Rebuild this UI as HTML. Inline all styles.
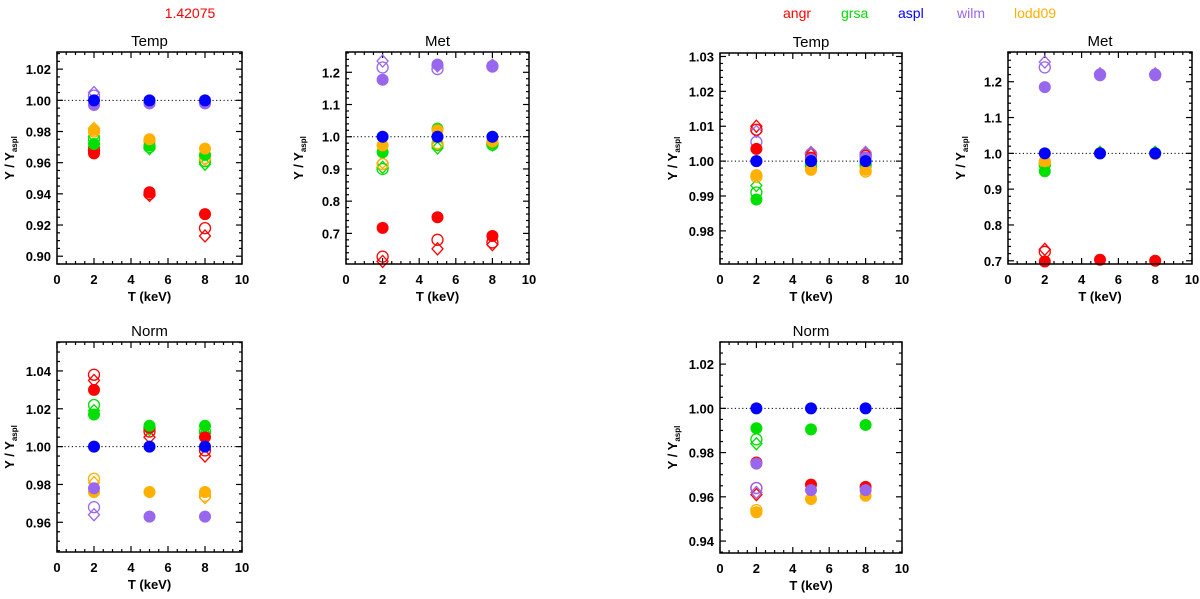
<!DOCTYPE html>
<html><head><meta charset="utf-8"><style>
body{margin:0;background:#fff;width:1200px;height:594px;overflow:hidden}
svg{font-family:"Liberation Sans",sans-serif;font-weight:bold}
</style></head><body>
<svg id="chart" width="1200" height="594" viewBox="0 0 1200 594">
<text x="190" y="18" fill="#f00" font-size="14" font-weight="normal" text-anchor="middle">1.42075</text>
<g font-size="14" font-weight="normal">
<text x="783" y="18" fill="#f00">angr</text>
<text x="841" y="18" fill="#00dd00">grsa</text>
<text x="898" y="18" fill="#0000ff">aspl</text>
<text x="957" y="18" fill="#9966ee">wilm</text>
<text x="1014" y="18" fill="#ffb000">lodd09</text>
</g>
</svg>
<script>
// model order: angr, grsa, lodd09, wilm, aspl
const models = ["angr","grsa","lodd09","wilm","aspl"];
const temps = [2,5,8];
const xTicks = [0,2,4,6,8,10];

const tempL_filled = [[0.966,0.941,0.927],[0.972,0.971,0.965],[0.981,0.975,0.969],[0.997,0.998,0.998],[1.0,1.0,1.0]];
const tempL_open = [[0.968,0.940,0.918],[0.975,0.970,0.961],[0.980,0.974,0.963],[1.003,null,null],[null,null,null]];
const tempL_diam = [[0.970,0.939,0.913],[0.977,0.969,0.959],[0.982,0.973,0.962],[1.005,null,null],[null,null,null]];
const tempL_ticks = [0.90,0.92,0.94,0.96,0.98,1.00,1.02];

const metL_filled = [[0.717,0.750,0.692],[0.952,1.025,0.980],[0.973,1.020,0.985],[1.177,1.224,1.220],[1.0,1.0,1.0]];
const metL_open = [[0.628,0.680,0.672],[0.900,0.975,0.975],[0.915,0.980,0.982],[1.215,1.210,1.218],[null,null,null]];
const metL_diam = [[0.613,0.652,0.665],[0.905,0.965,0.975],[0.920,0.975,0.980],[1.235,1.220,1.222],[null,null,null]];
const metL_ticks = [0.7,0.8,0.9,1.0,1.1,1.2];

const tempR_filled = [[1.0035,1.001,1.001],[0.989,0.9985,0.9985],[0.996,0.9975,0.9975],[1.000,1.0005,1.001],[1.0,1.0,1.0]];
const tempR_open = [[1.009,1.002,1.0015],[0.991,0.999,0.999],[0.9955,0.998,0.997],[1.0055,1.002,1.002],[null,null,null]];
const tempR_diam = [[1.010,1.002,1.002],[0.993,null,null],[null,null,null],[1.0085,1.0025,1.0025],[null,null,null]];
const tempR_ticks = [0.98,0.99,1.00,1.01,1.02,1.03];

const metR_filled = [[0.698,0.703,0.700],[0.950,1.000,1.000],[0.978,1.000,0.998],[1.185,1.218,1.218],[1.0,1.0,1.0]];
const metR_open = [[0.725,null,null],[0.968,null,null],[0.975,null,null],[1.240,1.220,1.220],[null,null,null]];
const metR_diam = [[0.732,null,null],[0.965,1.003,1.003],[null,null,null],[1.255,1.222,1.222],[null,null,null]];
const metR_ticks = [0.7,0.8,0.9,1.0,1.1,1.2];

const normL_filled = [[1.030,1.010,1.005],[1.017,1.011,1.011],[0.976,0.976,0.976],[0.978,0.963,0.963],[1.0,1.0,1.0]];
const normL_open = [[1.038,1.008,0.998],[1.022,1.010,1.008],[0.983,null,0.974],[0.968,null,null],[null,null,null]];
const normL_diam = [[1.035,1.005,0.995],[1.019,1.009,1.007],[0.981,null,0.973],[0.964,null,null],[null,null,null]];
const normL_ticks = [0.96,0.98,1.00,1.02,1.04];

const normR_filled = [[0.9755,0.9655,0.9645],[0.991,0.9905,0.9925],[0.953,0.959,0.9605],[0.975,0.963,0.963],[1.0,1.0,1.0]];
const normR_open = [[0.964,null,null],[0.986,null,null],[0.954,null,null],[0.964,null,null],[null,null,null]];
const normR_diam = [[0.961,null,null],[0.984,null,null],[null,null,null],[0.962,null,null],[null,null,null]];
const normR_ticks = [0.94,0.96,0.98,1.00,1.02];

const colors = {angr:"#ff0000",grsa:"#00e000",lodd09:"#ffb000",wilm:"#9966ee",aspl:"#0000ff"};
const NS="http://www.w3.org/2000/svg";
const svg=document.getElementById("chart");
function mk(tag,attrs,parent){const e=document.createElementNS(NS,tag);for(const k in attrs)e.setAttribute(k,attrs[k]);(parent||svg).appendChild(e);return e;}

const panels=[
 {id:"temp-left",title:"Temp",x0:57,x1:242,y0:52,y1:264,ymin:0.895,ymax:1.031,ticks:tempL_ticks,minor:0.005,dec:2,f:tempL_filled,o:tempL_open,d:tempL_diam},
 {id:"met-left",title:"Met",x0:346,x1:529,y0:52,y1:264,ymin:0.605,ymax:1.263,ticks:metL_ticks,minor:0.02,dec:1,f:metL_filled,o:metL_open,d:metL_diam},
 {id:"temp-right",title:"Temp",x0:720,x1:902,y0:53,y1:264,ymin:0.9705,ymax:1.031,ticks:tempR_ticks,minor:0.002,dec:2,f:tempR_filled,o:tempR_open,d:tempR_diam},
 {id:"met-right",title:"Met",x0:1008,x1:1192,y0:52,y1:264,ymin:0.691,ymax:1.283,ticks:metR_ticks,minor:0.02,dec:1,f:metR_filled,o:metR_open,d:metR_diam},
 {id:"norm-left",title:"Norm",x0:57,x1:242,y0:342,y1:552,ymin:0.9443,ymax:1.0553,ticks:normL_ticks,minor:0.005,dec:2,f:normL_filled,o:normL_open,d:normL_diam},
 {id:"norm-right",title:"Norm",x0:720,x1:902,y0:342,y1:553,ymin:0.9346,ymax:1.030,ticks:normR_ticks,minor:0.005,dec:2,f:normR_filled,o:normR_open,d:normR_diam}
];

panels.forEach(p=>{
 const g=mk("g",{});
 
 
 const X=v=>p.x0+(v-0)/10*(p.x1-p.x0);
 const Y=v=>p.y1-(v-p.ymin)/(p.ymax-p.ymin)*(p.y1-p.y0);
 const t=mk("text",{x:(p.x0+p.x1)/2,y:p.y0-6,"font-size":"15","font-weight":"normal","text-anchor":"middle"},g);
 t.textContent=p.title;
 
 
 const rl=mk("line",{x1:p.x0,x2:p.x1,y1:Y(1),y2:Y(1),stroke:"#000","stroke-width":"1","stroke-dasharray":"1.2 2.5"},g);
 
 
 const tk=mk("g",{stroke:"#000","stroke-width":"1.2"},g);
 
 
 for(let v=0;v<=10.001;v+=0.5){
  const major=Math.abs(v/2-Math.round(v/2))<1e-6;const L=major?6:3;
  mk("line",{x1:X(v),x2:X(v),y1:p.y1,y2:p.y1-L},tk);
  mk("line",{x1:X(v),x2:X(v),y1:p.y0,y2:p.y0+L},tk);
 }
 const start=Math.ceil(p.ymin/p.minor)*p.minor;
 for(let v=start;v<=p.ymax;v+=p.minor){
  const major=p.ticks.some(tv=>Math.abs(tv-v)<p.minor/10);const L=major?6:3;
  mk("line",{x1:p.x0,x2:p.x0+L,y1:Y(v),y2:Y(v)},tk);
  mk("line",{x1:p.x1,x2:p.x1-L,y1:Y(v),y2:Y(v)},tk);
 }
 xTicks.forEach(v=>{
  const e=mk("text",{x:X(v),y:p.y1+20,"font-size":"13","text-anchor":"middle"},g);
  e.textContent=v;
  
  
 });
 p.ticks.forEach(v=>{
  const e=mk("text",{x:p.x0-6,y:Y(v)+5,"font-size":"13","text-anchor":"end"},g);
  e.textContent=v.toFixed(p.dec);
  
  
 });
 const xl=mk("text",{x:(p.x0+p.x1)/2,y:p.y1+37,"font-size":"13","text-anchor":"middle"},g);
 xl.textContent="T (keV)";
 
 
 const yl=mk("text",{x:0,y:0,"font-size":"13","text-anchor":"middle",transform:`translate(${p.x0-43},${(p.y0+p.y1)/2}) rotate(-90)`},g);
 yl.innerHTML='Y / Y<tspan font-size="8" dy="3">aspl</tspan>';
 
 
 const drawSet=(arr,type)=>{
  arr.forEach((vals,mi)=>{
   const c=colors[models[mi]];
   vals.forEach((v,ti)=>{
    if(v===null||v<p.ymin||v>p.ymax)return;
    const cx=X(temps[ti]),cy=Y(v);let e;
    if(type==="diam"){e=mk("polygon",{points:`${cx},${cy-6} ${cx+5.5},${cy} ${cx},${cy+6} ${cx-5.5},${cy}`,fill:"none",stroke:c,"stroke-width":"1.3"},g);}
    else if(type==="open"){e=mk("circle",{cx:cx,cy:cy,r:5.5,fill:"none",stroke:c,"stroke-width":"1.3"},g);}
    else{e=mk("circle",{cx:cx,cy:cy,r:6,fill:c},g);}
    
    
   });
  });
 };
 drawSet(p.d,"diam");drawSet(p.o,"open");drawSet(p.f,"filled");
 const fr=mk("rect",{x:p.x0,y:p.y0,width:p.x1-p.x0,height:p.y1-p.y0,fill:"none",stroke:"#000","stroke-width":"1.5"},g);
 
 
});
</script>
</body></html>
